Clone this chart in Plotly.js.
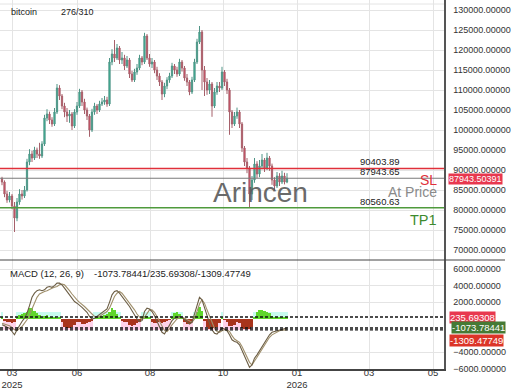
<!DOCTYPE html>
<html>
<head>
<meta charset="utf-8">
<script src="https://cdn.plot.ly/plotly-3.0.1.min.js"></script>
<style>html,body{margin:0;padding:0;background:#fff;}#chart{width:520px;height:390px;}</style>
</head>
<body>
<div id="chart"></div>
<script>
// ---- data ----
const barIndex = [];
for (let i = 0; i < 115; i++) barIndex.push(i);

const open = [87800,87000,84000,82500,83500,81000,78000,82000,84000,83500,
85000,92000,94000,93000,95000,94000,93500,96500,103000,104000,
102500,101500,104500,110500,108500,106000,104500,103500,104000,101000,
104500,106000,109500,107000,105000,103500,100000,104500,106000,105000,
106500,107000,107500,106500,117000,119000,118000,120500,117500,118000,
116000,117500,114000,112500,114500,115500,118000,117000,123500,118000,
116500,117000,115000,113500,112000,109000,111000,112500,113500,116000,
115000,114000,117000,115500,113000,112000,109500,112500,117000,122000,
124500,115000,112000,110000,111500,106000,109500,111000,110500,114500,
112000,110000,104500,101500,103500,104500,101500,95500,92000,90500,
84000,87500,91500,89000,91000,92500,90500,93000,91000,87500,
86000,88500,87000,88500,87000];
const close = [87000,84000,82500,83500,81000,78000,82000,84000,83500,85000,
92000,94000,93000,95000,94000,93500,96500,103000,104000,102500,
101500,104500,110500,108500,106000,104500,103500,104000,101000,104500,
106000,109500,107000,105000,103500,100000,104500,106000,105000,106500,
107000,107500,106500,117000,119000,118000,120500,117500,118000,116000,
117500,114000,112500,114500,115500,118000,117000,123500,118000,116500,
117000,115000,113500,112000,109000,111000,112500,113500,116000,115000,
114000,117000,115500,113000,112000,109500,112500,117000,122000,124500,
115000,112000,110000,111500,106000,109500,111000,110500,114500,112000,
110000,104500,101500,103500,104500,101500,95500,92000,90500,84000,
87500,91500,89000,91000,92500,90500,93000,91000,87500,86000,
88500,87000,88500,87000,87943.5];
const high = [88300,87400,84800,84500,84000,82000,83000,85200,85000,86000,
92800,95200,94800,95800,95600,96800,97200,103800,105200,104600,
103200,105500,111500,111200,109000,106800,105500,105000,104500,105200,
107000,110300,110000,107800,105600,104000,105300,106800,106500,107300,
108000,108500,108300,118000,120200,122500,121500,121000,119500,118800,
118500,118000,114800,115300,116500,118800,118500,124300,124000,119000,
118000,117500,115800,114200,112500,111800,113200,114300,116800,116500,
115800,117800,117500,116000,114000,112500,113300,117800,122800,126000,
125000,116000,113000,112500,112000,110500,112000,112000,115800,115000,
112800,110500,105000,104500,105600,105000,102000,96000,93000,91000,
88500,93000,92200,92500,94000,93000,94300,93500,91600,88200,
89500,89200,89800,89300,89200];
const low = [86200,83200,81800,81900,80200,74500,77200,81300,82600,83000,
84600,91200,92000,92500,93000,92800,93000,96000,102200,101500,
100800,101000,104000,107500,105200,103200,102000,101800,100000,100500,
103800,105500,106000,104000,102500,98300,99500,103800,104000,104500,
106000,106300,105800,106000,116200,117000,117500,116500,116500,115000,
115500,113000,112000,112000,113800,115000,116200,116500,117500,115800,
115500,114200,112500,111000,107500,108200,110200,111800,113000,114000,
113300,113500,114600,112300,111000,108700,109000,112000,116500,121500,
110000,108500,108800,109000,103300,105500,108800,109500,110000,111000,
109000,98800,100500,101000,102800,100500,94500,91000,89200,80500,
82500,86800,88000,88200,90200,89500,90000,89800,86300,84800,
85500,86000,86500,86400,86700];

const macdLine = [-700,-800,-1000,-1100,-1500,-1900,-1300,-700,-300,100,
700,1600,2600,3100,3400,3500,3400,3500,3800,3900,
3800,4000,4300,4300,4100,3700,3300,2900,2400,2100,
1900,1700,1400,1100,800,300,0,100,300,500,
700,900,1200,2000,2900,3300,3400,3100,2700,2300,
2000,1500,1000,500,0,-300,-200,900,1300,1200,
900,400,-300,-1000,-1600,-1800,-1300,-800,-200,100,
200,300,200,-100,-300,-600,-400,600,1800,2600,
2300,1300,300,-500,-1300,-1700,-1800,-1500,-1100,-1200,
-1400,-1900,-2500,-2700,-2800,-3100,-3800,-4500,-5200,-5800,
-5500,-4700,-4300,-3800,-3300,-2800,-2300,-1900,-1600,-1500,
-1400,-1300,-1200,-1100,-1073.78441];
const signalLine = [-500,-600,-700,-800,-1000,-1300,-1400,-1200,-900,-500,
-100,500,1200,2000,2600,3000,3200,3300,3400,3600,
3700,3800,3900,4100,4200,4100,3800,3400,3000,2600,
2300,2000,1800,1500,1200,900,500,300,200,300,
500,700,900,1300,2000,2700,3100,3300,3100,2700,
2400,2000,1500,1100,600,200,-100,200,700,1100,
1100,800,300,-300,-900,-1400,-1500,-1200,-700,-300,
0,200,200,100,-100,-300,-400,0,900,1800,
2300,1900,1100,300,-500,-1100,-1500,-1600,-1400,-1300,
-1300,-1500,-2000,-2400,-2600,-2800,-3300,-3900,-4600,-5200,
-5500,-5100,-4600,-4100,-3600,-3100,-2600,-2200,-1900,-1700,
-1500,-1400,-1350,-1320,-1309.47749];
const histogram = [200,-200,-300,-400,-500,-300,300,500,600,700,
900,1300,1300,1000,700,500,300,400,500,300,
200,200,100,200,-300,-900,-1100,-1100,-1000,-700,
-300,-400,-600,-600,-500,-400,-200,100,300,400,
400,500,600,900,1300,1100,600,200,-200,-300,
-400,-700,-800,-700,-500,-300,200,400,400,200,
-300,-500,-500,-400,-500,-400,-200,-100,300,700,
900,600,200,-300,-600,-600,-300,400,900,1500,
1000,-200,-900,-1200,-1200,-1100,-900,-500,300,-100,
-400,-800,-800,-700,-300,-500,-1100,-1200,-1200,-1200,
-900,200,800,1100,1100,1000,900,700,400,300,
200,300,300,200,235.69308];

const slLevel = 90403.89;
const atPriceLevel = 87943.65;
const tp1Level = 80560.63;
const lastPrice = 87943.50391;
const macdLast = -1073.78441;
const histLast = 235.69308;
const signalLast = -1309.47749;

const tickVals = [4, 30, 59.2, 88.4, 118, 146.8, 172.4];
const tickText = ['03<br>2025', '06', '08', '10', '01<br>2026', '03', '05'];
const priceTicks = [70000,75000,80000,85000,90000,95000,100000,105000,110000,115000,120000,125000,130000];
const macdTicks = [6000, 4000, 2000, -4000, -6000];

// ---- layout helpers (pixel positions) ----
const W = 520, H = 390, ML = 0, MR = 76, MT = 0, MB = 21;
const PW = W - ML - MR, PH = H - MT - MB;
const px = x => (x - ML) / PW;
const py = y => 1 - (y - MT) / PH;
const split = py(260);
const FONT = 'Liberation Sans, Arial, sans-serif';

const traces = [
  {
    type: 'bar', x: barIndex, y: histogram.map(v => v >= 0 ? 900 : -1350),
    marker: {color: histogram.map(v => v >= 0 ? '#c8fbef' : '#ffd2ea'), line: {width: 0}},
    xaxis: 'x', yaxis: 'y2', width: 1, hoverinfo: 'skip', showlegend: false
  },
  {
    type: 'bar', x: barIndex, y: histogram,
    marker: {color: histogram.map(v => v >= 0 ? '#5fd62c' : '#a8341c'), line: {width: 0}},
    xaxis: 'x', yaxis: 'y2', width: 1, showlegend: false
  },
  {
    type: 'scatter', mode: 'lines', x: barIndex, y: signalLine,
    line: {color: '#a0906c', width: 1.1}, xaxis: 'x', yaxis: 'y2', showlegend: false
  },
  {
    type: 'scatter', mode: 'lines', x: barIndex, y: macdLine,
    line: {color: '#6b5d44', width: 1.1}, xaxis: 'x', yaxis: 'y2', showlegend: false
  },
  {
    type: 'candlestick', x: barIndex, open: open, high: high, low: low, close: close,
    increasing: {line: {color: '#4f9486', width: 1}, fillcolor: '#2fbf9c'},
    decreasing: {line: {color: '#a6606a', width: 1}, fillcolor: '#e8405e'},
    xaxis: 'x', yaxis: 'y', showlegend: false
  }
];

const hline = (yref, y, color, width, dash) => ({
  type: 'line', xref: 'paper', x0: 0, x1: 1, yref: yref, y0: y, y1: y,
  line: {color: color, width: width, dash: dash || 'solid'}, layer: 'above'
});

const shapes = [
  hline('y', slLevel, '#e0303a', 1.5),
  hline('y', atPriceLevel, '#7a7a7a', 1.2),
  hline('y', tp1Level, '#4f9a3c', 1.5),
  hline('y2', histLast, '#111', 1.4, '3px,2px'),
  hline('y2', macdLast, '#111', 1.4, '3px,2px'),
  hline('y2', signalLast, '#111', 1.4, '3px,2px'),
  {type: 'line', xref: 'paper', yref: 'paper', x0: 0, x1: 1, y0: py(4), y1: py(4),
   line: {color: '#e4e4e4', width: 1}, layer: 'below'},
  {type: 'line', xref: 'paper', yref: 'paper', x0: 0, x1: px(505), y0: split, y1: split,
   line: {color: '#444', width: 1}}
];

const ann = (text, x, y, opts) => Object.assign({
  text: text, xref: 'paper', yref: 'paper', x: px(x), y: py(y),
  xanchor: 'left', yanchor: 'middle', showarrow: false,
  font: {family: FONT, size: 9, color: '#222'}
}, opts || {});

const lvlLabel = (text, level) => ({
  text: text, xref: 'paper', x: px(359), yref: 'y', y: level, xanchor: 'left', yanchor: 'bottom',
  yshift: 0, showarrow: false, borderpad: 0, font: {family: FONT, size: 9.5, color: '#222'}
});

const annotations = [
  ann('bitcoin', 9, 12),
  ann('276/310', 59, 12),
  ann('MACD (12, 26, 9)', 8, 273, {font: {family: FONT, size: 9.5, color: '#222'}}),
  ann(macdLast.toFixed(5) + '/' + histLast.toFixed(5) + '/' + signalLast.toFixed(5), 92, 273,
      {font: {family: FONT, size: 9.5, color: '#222'}}),
  ann('Arincen', 260, 193, {xanchor: 'center', font: {family: FONT, size: 28, color: '#5a5a5a'}, opacity: 0.9}),
  lvlLabel(slLevel.toFixed(2), slLevel),
  lvlLabel(atPriceLevel.toFixed(2), atPriceLevel),
  lvlLabel(tp1Level.toFixed(2), tp1Level),
  {text: 'SL', xref: 'paper', x: px(438), yref: 'y', y: slLevel, xanchor: 'right', yanchor: 'top',
   yshift: -3, borderpad: 0, showarrow: false, font: {family: FONT, size: 14, color: '#e0303a'}},
  {text: 'At Price', xref: 'paper', x: px(438), yref: 'y', y: atPriceLevel, xanchor: 'right', yanchor: 'top',
   yshift: -5, borderpad: 0, showarrow: false, font: {family: FONT, size: 14, color: '#8a8a8a'}},
  {text: 'TP1', xref: 'paper', x: px(438), yref: 'y', y: tp1Level, xanchor: 'right', yanchor: 'top',
   yshift: -3, borderpad: 0, showarrow: false, font: {family: FONT, size: 14.5, color: '#3d8a2e'}},
  {text: lastPrice.toFixed(5), xref: 'paper', x: px(448), yref: 'y', y: lastPrice, xanchor: 'left', yanchor: 'middle',
   yshift: -1, showarrow: false, bgcolor: '#e8384f', borderpad: 0, font: {family: FONT, size: 9, color: '#fff'}},
  {text: histLast.toFixed(5), xref: 'paper', x: px(449), yref: 'y2', y: histLast, xanchor: 'left', yanchor: 'middle',
   showarrow: false, bgcolor: '#e8384f', borderpad: 0, font: {family: FONT, size: 9.5, color: '#fff'}},
  {text: macdLast.toFixed(5), xref: 'paper', x: px(451), yref: 'y2', y: macdLast, xanchor: 'left', yanchor: 'middle',
   showarrow: false, bgcolor: '#467a35', borderpad: 0, font: {family: FONT, size: 9.5, color: '#fff'}},
  {text: signalLast.toFixed(5), xref: 'paper', x: px(449), yref: 'y2', y: signalLast, xanchor: 'left', yanchor: 'middle',
   yshift: -11, showarrow: false, bgcolor: '#dc3428', borderpad: 0, font: {family: FONT, size: 9.5, color: '#fff'}}
];

const layout = {
  width: W, height: H,
  margin: {l: ML, r: MR, t: MT, b: MB, pad: 0},
  paper_bgcolor: '#fff', plot_bgcolor: '#fff',
  showlegend: false, barmode: 'overlay', bargap: 0,
  font: {family: FONT, size: 9, color: '#333'},
  xaxis: {
    domain: [0, 1], anchor: 'y2', range: [-0.8, 176.8],
    tickmode: 'array', tickvals: tickVals, ticktext: tickText,
    showgrid: true, gridcolor: '#e4e4e4', gridwidth: 1,
    showline: true, linecolor: '#444', linewidth: 1.5,
    ticks: '', zeroline: false, rangeslider: {visible: false},
    ticklabelstandoff: -6,
    tickfont: {family: FONT, size: 9.5, color: '#333'}
  },
  yaxis: {
    domain: [split, 1], anchor: 'x', side: 'right', range: [67500, 132500],
    tickmode: 'array', tickvals: priceTicks, tickformat: '.5f',
    showgrid: true, gridcolor: '#e4e4e4', zeroline: false,
    showline: true, linecolor: '#555', linewidth: 1.5, ticks: '',
    ticklabelstandoff: 6, tickfont: {family: FONT, size: 9, color: '#333'}
  },
  yaxis2: {
    domain: [0, split], anchor: 'x', side: 'right', range: [-6000, 7080],
    tickmode: 'array', tickvals: macdTicks, tickformat: '.5f',
    showgrid: true, gridcolor: '#e4e4e4', zeroline: false,
    showline: true, linecolor: '#555', linewidth: 1.5, ticks: '',
    ticklabelstandoff: 6, tickfont: {family: FONT, size: 9, color: '#333'}
  },
  shapes: shapes,
  annotations: annotations
};

Plotly.newPlot('chart', traces, layout, {staticPlot: true, displayModeBar: false});
</script>
</body>
</html>
